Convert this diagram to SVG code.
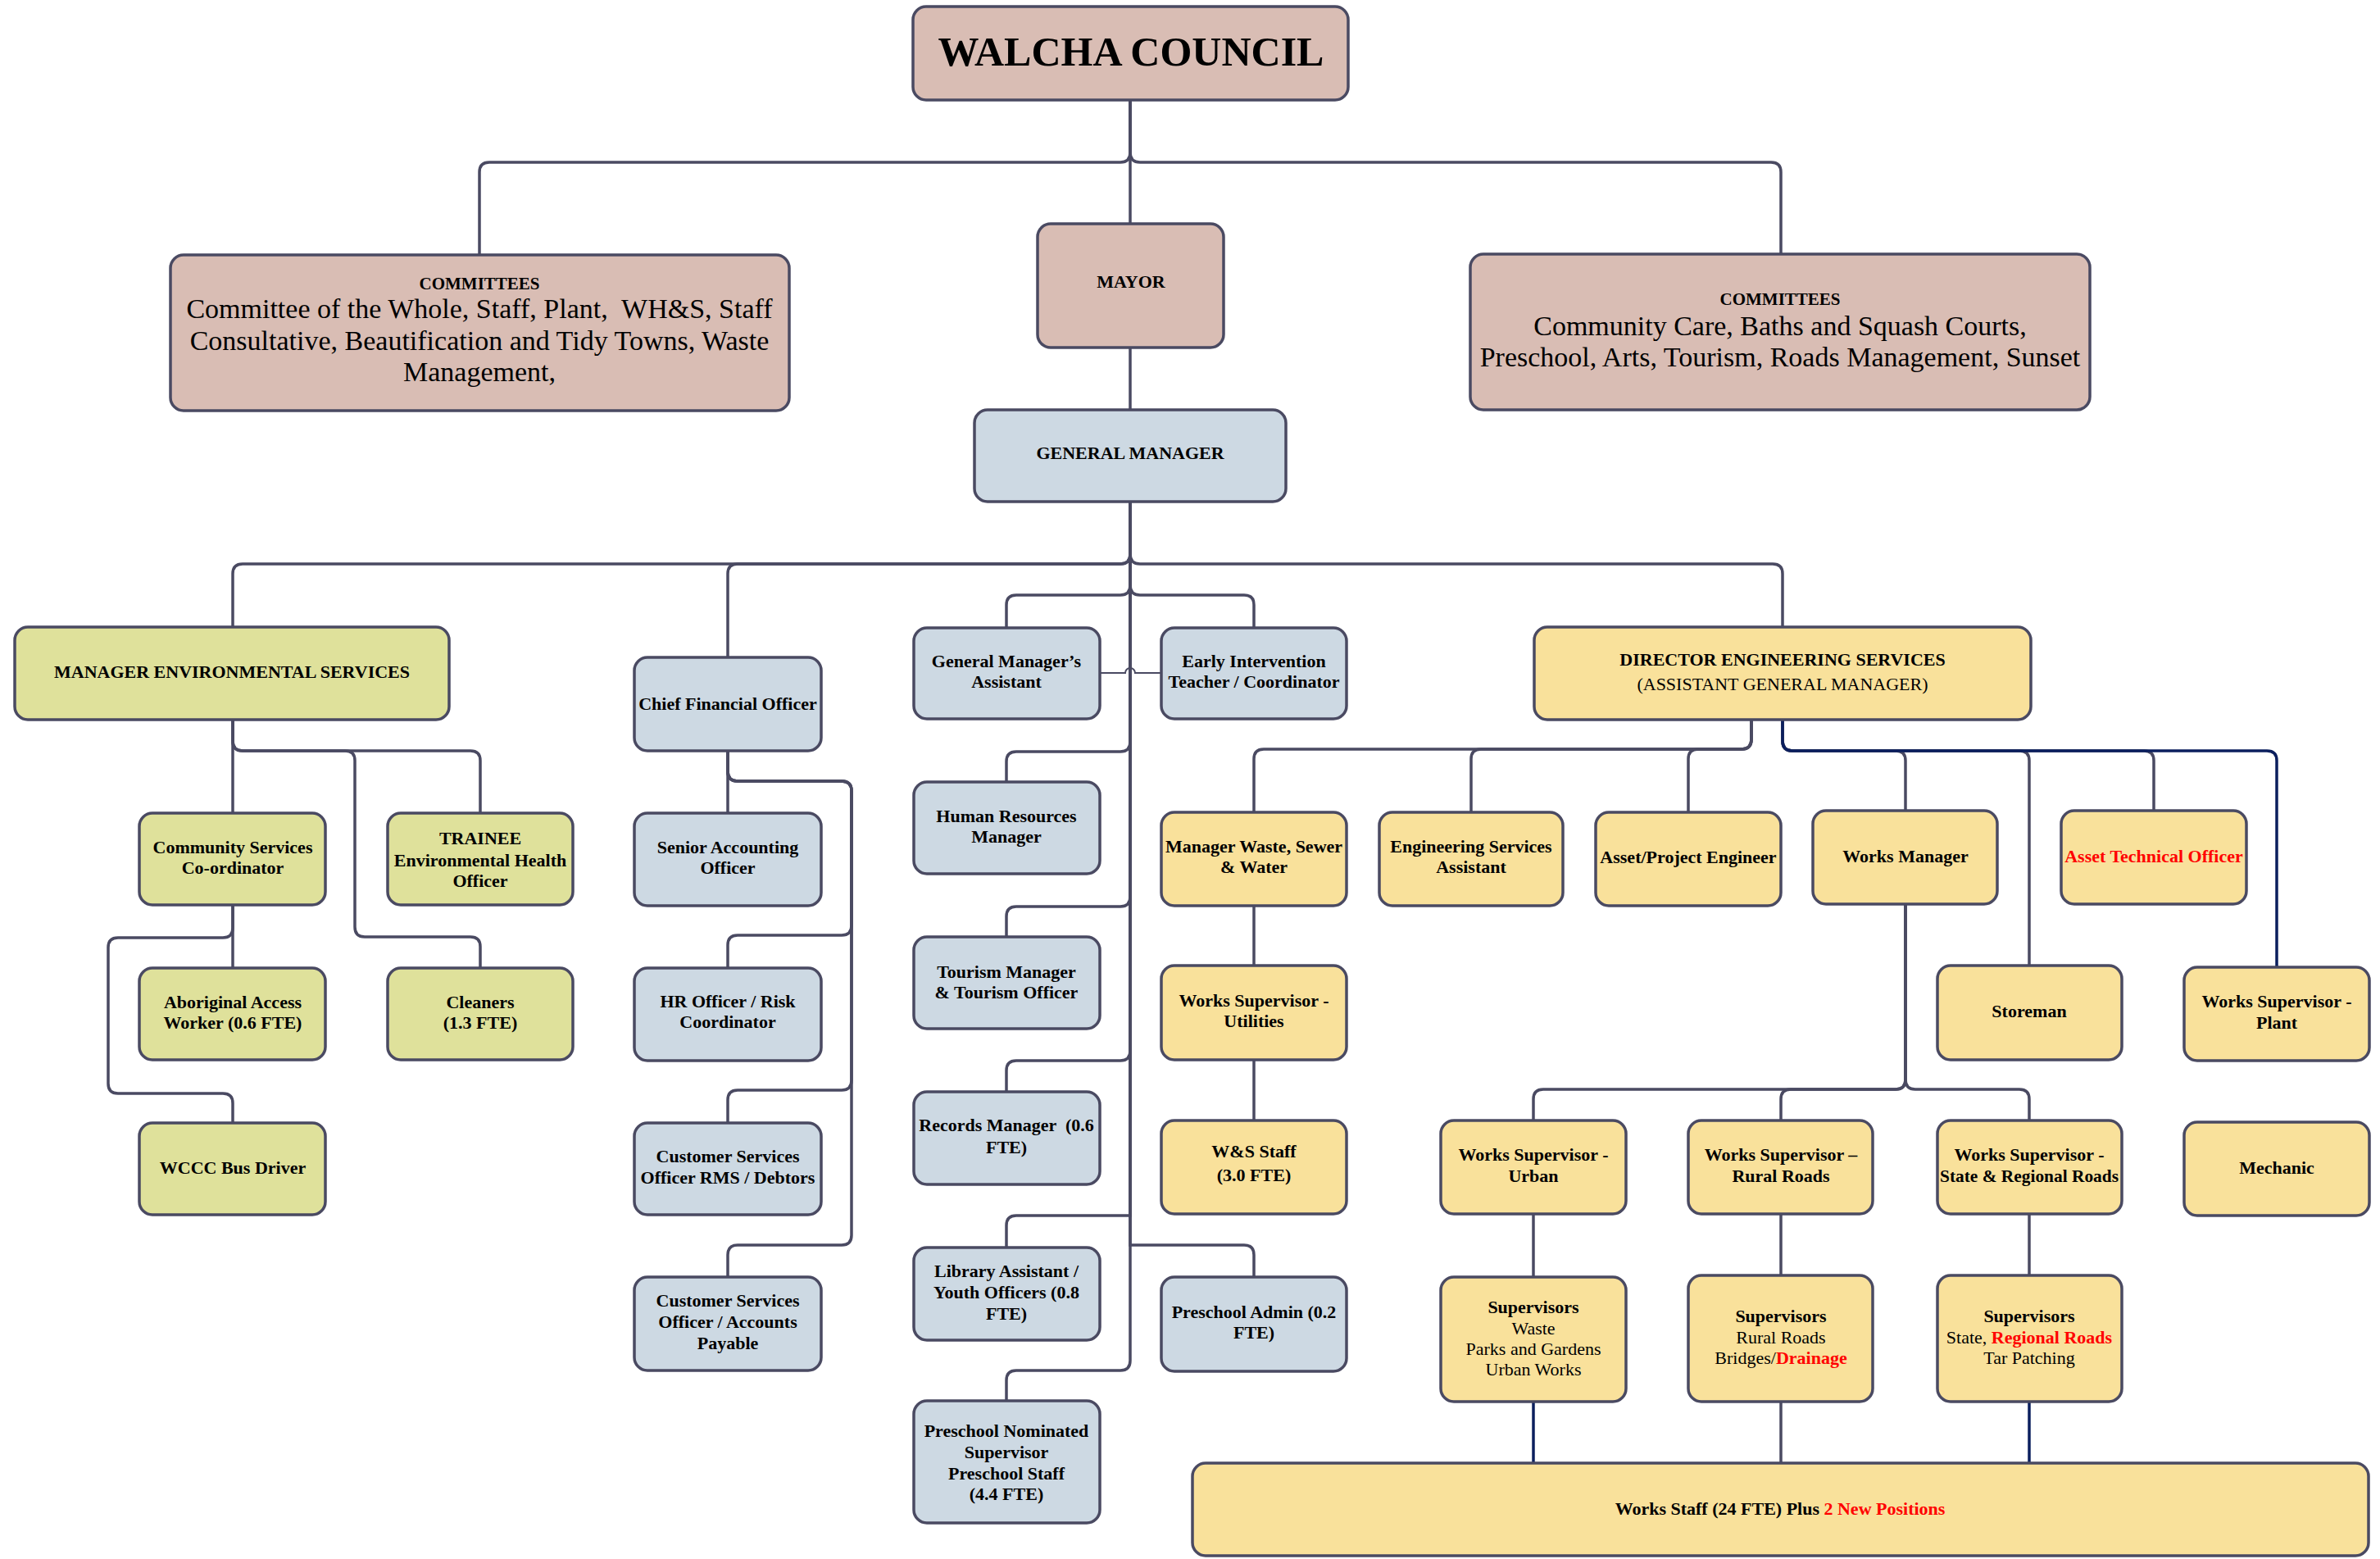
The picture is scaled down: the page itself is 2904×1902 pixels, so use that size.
<svg xmlns="http://www.w3.org/2000/svg" width="2904" height="1902" viewBox="0 0 2904 1902">
<style>
.cn path{fill:none;stroke:#4a4a62;stroke-width:3.5}
.cn path.nv{stroke:#0b1f5e}
.cn path.th{stroke-width:2}
.n rect{stroke:#4a4a62;stroke-width:3.5}
.p rect{fill:#d9bdb4}
.b rect{fill:#cdd9e3}
.g rect{fill:#dfe19b}
.y rect{fill:#f9e19b}
text{font-family:"Liberation Serif","Times New Roman",serif;text-anchor:middle;fill:#000;font-size:22px;font-weight:bold}
text.r{font-weight:normal}
text.c{font-weight:normal;font-size:34px}
.red{fill:#ff0000}
</style>
<rect width="2904" height="1902" fill="#ffffff"/>
<g class="cn" id="connectors">
<!-- council bus -->
<path d="M1379,122 V186 Q1379,198 1367,198 H597 Q585,198 585,210 V311"/>
<path d="M1379,122 V186 Q1379,198 1391,198 H2161 Q2173,198 2173,210 V311"/>
<path d="M1379,122 V273"/>
<path d="M1379,424 V500"/>
<!-- GM bus -->
<path d="M1379,612 V676 Q1379,688 1367,688 H296 Q284,688 284,700 V765"/>
<path d="M1379,612 V676 Q1379,688 1367,688 H900 Q888,688 888,700 V802"/>
<path d="M1379,612 V676 Q1379,688 1391,688 H2163 Q2175,688 2175,700 V765"/>
<path d="M1379,612 V714 Q1379,726 1367,726 H1240 Q1228,726 1228,738 V766"/>
<path d="M1379,612 V714 Q1379,726 1391,726 H1518 Q1530,726 1530,738 V766"/>
<path d="M1379,612 V905 Q1379,917 1367,917 H1240 Q1228,917 1228,929 V954"/>
<path d="M1379,612 V1094 Q1379,1106 1367,1106 H1240 Q1228,1106 1228,1118 V1143"/>
<path d="M1379,612 V1282 Q1379,1294 1367,1294 H1240 Q1228,1294 1228,1306 V1332"/>
<path d="M1379,612 V1483 H1240 Q1228,1483 1228,1495 V1522"/>
<path d="M1379,612 V1519 H1518 Q1530,1519 1530,1531 V1558"/>
<path d="M1379,612 V1660 Q1379,1672 1367,1672 H1240 Q1228,1672 1228,1684 V1709"/>
<path class="th" d="M1342,821 H1373 A6,6 0 0 1 1385,821 H1417"/>
<!-- environmental -->
<path d="M284,878 V992"/>
<path d="M284,878 V904 Q284,916 296,916 H574 Q586,916 586,928 V992"/>
<path d="M284,878 V904 Q284,916 296,916 H421 Q433,916 433,928 V1131 Q433,1143 445,1143 H574 Q586,1143 586,1155 V1181"/>
<path d="M284,1104 V1181"/>
<path d="M284,1104 V1132 Q284,1144 272,1144 H144 Q132,1144 132,1156 V1322 Q132,1334 144,1334 H272 Q284,1334 284,1346 V1370"/>
<!-- CFO -->
<path d="M888,916 V992"/>
<path d="M888,916 V941 Q888,953 900,953 H1027 Q1039,953 1039,965 V1129 Q1039,1141 1027,1141 H900 Q888,1141 888,1153 V1181"/>
<path d="M888,916 V941 Q888,953 900,953 H1027 Q1039,953 1039,965 V1318 Q1039,1330 1027,1330 H900 Q888,1330 888,1342 V1370"/>
<path d="M888,916 V941 Q888,953 900,953 H1027 Q1039,953 1039,965 V1507 Q1039,1519 1027,1519 H900 Q888,1519 888,1531 V1558"/>
<!-- DES left -->
<path d="M2137,878 V902 Q2137,914 2125,914 H1542 Q1530,914 1530,926 V991"/>
<path d="M2137,878 V902 Q2137,914 2125,914 H1807 Q1795,914 1795,926 V991"/>
<path d="M2137,878 V902 Q2137,914 2125,914 H2072 Q2060,914 2060,926 V991"/>
<!-- DES right -->
<path d="M2175,878 V904 Q2175,916 2187,916 H2313 Q2325,916 2325,928 V989"/>
<path d="M2175,878 V904 Q2175,916 2187,916 H2464 Q2476,916 2476,928 V1178"/>
<path d="M2175,878 V904 Q2175,916 2187,916 H2616 Q2628,916 2628,928 V989"/>
<path class="nv" d="M2175,878 V904 Q2175,916 2187,916 H2766 Q2778,916 2778,928 V1180"/>
<!-- waste -->
<path d="M1530,1105 V1178"/>
<path d="M1530,1293 V1367"/>
<!-- works manager -->
<path d="M2325,1103 V1317 Q2325,1329 2313,1329 H1883 Q1871,1329 1871,1341 V1367"/>
<path d="M2325,1103 V1317 Q2325,1329 2313,1329 H2185 Q2173,1329 2173,1341 V1367"/>
<path d="M2325,1103 V1317 Q2325,1329 2337,1329 H2464 Q2476,1329 2476,1341 V1367"/>
<path d="M1871,1481 V1558"/>
<path d="M2173,1481 V1556"/>
<path d="M2476,1481 V1556"/>
<path class="nv" d="M1871,1710 V1785"/>
<path d="M2173,1710 V1785"/>
<path class="nv" d="M2476,1710 V1785"/>
</g>

<g id="walcha" class="n p"><rect x="1114" y="8" width="531" height="114" rx="16"/><text x="1380" y="80" style="font-size:50px">WALCHA COUNCIL</text></g>
<g id="committees-left" class="n p"><rect x="208" y="311" width="755" height="190" rx="16"/>
<text x="585" y="353" style="font-size:21px">COMMITTEES</text>
<text class="c" x="585" y="388" xml:space="preserve">Committee of the Whole, Staff, Plant,  WH&amp;S, Staff</text>
<text class="c" x="585" y="427">Consultative, Beautification and Tidy Towns, Waste</text>
<text class="c" x="585" y="465">Management,</text></g>
<g id="mayor" class="n p"><rect x="1266" y="273" width="227" height="151" rx="16"/><text x="1380" y="351">MAYOR</text></g>
<g id="committees-right" class="n p"><rect x="1794" y="310" width="756" height="190" rx="16"/>
<text x="2172" y="372" style="font-size:21px">COMMITTEES</text>
<text class="c" x="2172" y="409">Community Care, Baths and Squash Courts,</text>
<text class="c" x="2172" y="447">Preschool, Arts, Tourism, Roads Management, Sunset</text></g>
<g id="general-manager" class="n b"><rect x="1189" y="500" width="380" height="112" rx="16"/><text x="1379" y="560">GENERAL MANAGER</text></g>

<!-- environmental -->
<g id="mgr-env" class="n g"><rect x="18" y="765" width="530" height="113" rx="16"/><text x="283" y="827">MANAGER ENVIRONMENTAL SERVICES</text></g>
<g id="community-services" class="n g"><rect x="170" y="992" width="227" height="112" rx="16"/><text x="284" y="1041">Community Services</text><text x="284" y="1066">Co-ordinator</text></g>
<g id="trainee" class="n g"><rect x="473" y="992" width="226" height="112" rx="16"/><text x="586" y="1030">TRAINEE</text><text x="586" y="1057">Environmental Health</text><text x="586" y="1082">Officer</text></g>
<g id="aboriginal" class="n g"><rect x="170" y="1181" width="227" height="112" rx="16"/><text x="284" y="1230">Aboriginal Access</text><text x="284" y="1255">Worker (0.6 FTE)</text></g>
<g id="cleaners" class="n g"><rect x="473" y="1181" width="226" height="112" rx="16"/><text x="586" y="1230">Cleaners</text><text x="586" y="1255">(1.3 FTE)</text></g>
<g id="bus-driver" class="n g"><rect x="170" y="1370" width="227" height="112" rx="16"/><text x="284" y="1432">WCCC Bus Driver</text></g>

<!-- CFO -->
<g id="cfo" class="n b"><rect x="774" y="802" width="228" height="114" rx="16"/><text x="888" y="866">Chief Financial Officer</text></g>
<g id="senior-accounting" class="n b"><rect x="774" y="992" width="228" height="113" rx="16"/><text x="888" y="1041">Senior Accounting</text><text x="888" y="1066">Officer</text></g>
<g id="hr-officer" class="n b"><rect x="774" y="1181" width="228" height="113" rx="16"/><text x="888" y="1229">HR Officer / Risk</text><text x="888" y="1254">Coordinator</text></g>
<g id="cso-rms" class="n b"><rect x="774" y="1370" width="228" height="112" rx="16"/><text x="888" y="1418">Customer Services</text><text x="888" y="1444">Officer RMS / Debtors</text></g>
<g id="cso-ap" class="n b"><rect x="774" y="1558" width="228" height="114" rx="16"/><text x="888" y="1594">Customer Services</text><text x="888" y="1620">Officer / Accounts</text><text x="888" y="1646">Payable</text></g>

<!-- central -->
<g id="gm-assistant" class="n b"><rect x="1115" y="766" width="227" height="111" rx="16"/><text x="1228" y="814">General Manager’s</text><text x="1228" y="839">Assistant</text></g>
<g id="early-intervention" class="n b"><rect x="1417" y="766" width="226" height="111" rx="16"/><text x="1530" y="814">Early Intervention</text><text x="1530" y="839">Teacher / Coordinator</text></g>
<g id="hr-manager" class="n b"><rect x="1115" y="954" width="227" height="112" rx="16"/><text x="1228" y="1003">Human Resources</text><text x="1228" y="1028">Manager</text></g>
<g id="tourism" class="n b"><rect x="1115" y="1143" width="227" height="112" rx="16"/><text x="1228" y="1193">Tourism Manager</text><text x="1228" y="1218">&amp; Tourism Officer</text></g>
<g id="records" class="n b"><rect x="1115" y="1332" width="227" height="113" rx="16"/><text x="1228" y="1380" xml:space="preserve">Records Manager  (0.6</text><text x="1228" y="1407">FTE)</text></g>
<g id="library" class="n b"><rect x="1115" y="1522" width="227" height="113" rx="16"/><text x="1228" y="1558">Library Assistant /</text><text x="1228" y="1584">Youth Officers (0.8</text><text x="1228" y="1610">FTE)</text></g>
<g id="preschool-admin" class="n b"><rect x="1417" y="1558" width="226" height="115" rx="16"/><text x="1530" y="1608">Preschool Admin (0.2</text><text x="1530" y="1633">FTE)</text></g>
<g id="preschool-supervisor" class="n b"><rect x="1115" y="1709" width="227" height="149" rx="16"/><text x="1228" y="1753">Preschool Nominated</text><text x="1228" y="1779">Supervisor</text><text x="1228" y="1805">Preschool Staff</text><text x="1228" y="1830">(4.4 FTE)</text></g>

<!-- engineering -->
<g id="des" class="n y"><rect x="1872" y="765" width="606" height="113" rx="16"/><text x="2175" y="812">DIRECTOR ENGINEERING SERVICES</text><text class="r" x="2175" y="842">(ASSISTANT GENERAL MANAGER)</text></g>
<g id="mgr-waste" class="n y"><rect x="1417" y="991" width="226" height="114" rx="16"/><text x="1530" y="1040">Manager Waste, Sewer</text><text x="1530" y="1065">&amp; Water</text></g>
<g id="eng-assistant" class="n y"><rect x="1683" y="991" width="224" height="114" rx="16"/><text x="1795" y="1040">Engineering Services</text><text x="1795" y="1065">Assistant</text></g>
<g id="asset-engineer" class="n y"><rect x="1947" y="991" width="226" height="114" rx="16"/><text x="2060" y="1053">Asset/Project Engineer</text></g>
<g id="works-manager" class="n y"><rect x="2212" y="989" width="225" height="114" rx="16"/><text x="2325" y="1052">Works Manager</text></g>
<g id="asset-tech" class="n y"><rect x="2515" y="989" width="226" height="114" rx="16"/><text class="red" x="2628" y="1052">Asset Technical Officer</text></g>
<g id="ws-utilities" class="n y"><rect x="1417" y="1178" width="226" height="115" rx="16"/><text x="1530" y="1228">Works Supervisor -</text><text x="1530" y="1253">Utilities</text></g>
<g id="storeman" class="n y"><rect x="2364" y="1178" width="225" height="115" rx="16"/><text x="2476" y="1241">Storeman</text></g>
<g id="ws-plant" class="n y"><rect x="2665" y="1180" width="226" height="114" rx="16"/><text x="2778" y="1229">Works Supervisor -</text><text x="2778" y="1255">Plant</text></g>
<g id="ws-staff" class="n y"><rect x="1417" y="1367" width="226" height="114" rx="16"/><text x="1530" y="1412">W&amp;S Staff</text><text x="1530" y="1441">(3.0 FTE)</text></g>
<g id="ws-urban" class="n y"><rect x="1758" y="1367" width="226" height="114" rx="16"/><text x="1871" y="1416">Works Supervisor -</text><text x="1871" y="1442">Urban</text></g>
<g id="ws-rural" class="n y"><rect x="2060" y="1367" width="225" height="114" rx="16"/><text x="2173" y="1416">Works Supervisor –</text><text x="2173" y="1442">Rural Roads</text></g>
<g id="ws-state" class="n y"><rect x="2364" y="1367" width="225" height="114" rx="16"/><text x="2476" y="1416">Works Supervisor -</text><text x="2476" y="1442" textLength="218" lengthAdjust="spacingAndGlyphs">State &amp; Regional Roads</text></g>
<g id="mechanic" class="n y"><rect x="2665" y="1369" width="226" height="114" rx="16"/><text x="2778" y="1432">Mechanic</text></g>
<g id="sup-urban" class="n y"><rect x="1758" y="1558" width="226" height="152" rx="16"/><text x="1871" y="1602">Supervisors</text><text class="r" x="1871" y="1628">Waste</text><text class="r" x="1871" y="1653">Parks and Gardens</text><text class="r" x="1871" y="1678">Urban Works</text></g>
<g id="sup-rural" class="n y"><rect x="2060" y="1556" width="225" height="154" rx="16"/><text x="2173" y="1613">Supervisors</text><text class="r" x="2173" y="1639">Rural Roads</text><text class="r" x="2173" y="1664">Bridges/<tspan class="red" font-weight="bold">Drainage</tspan></text></g>
<g id="sup-state" class="n y"><rect x="2364" y="1556" width="225" height="154" rx="16"/><text x="2476" y="1613">Supervisors</text><text class="r" x="2476" y="1639">State, <tspan class="red" font-weight="bold">Regional Roads</tspan></text><text class="r" x="2476" y="1664">Tar Patching</text></g>
<g id="works-staff" class="n y"><rect x="1455" y="1785" width="1435" height="113" rx="16"/><text x="2172" y="1848">Works Staff (24 FTE) Plus <tspan class="red">2 New Positions</tspan></text></g>
</svg>
